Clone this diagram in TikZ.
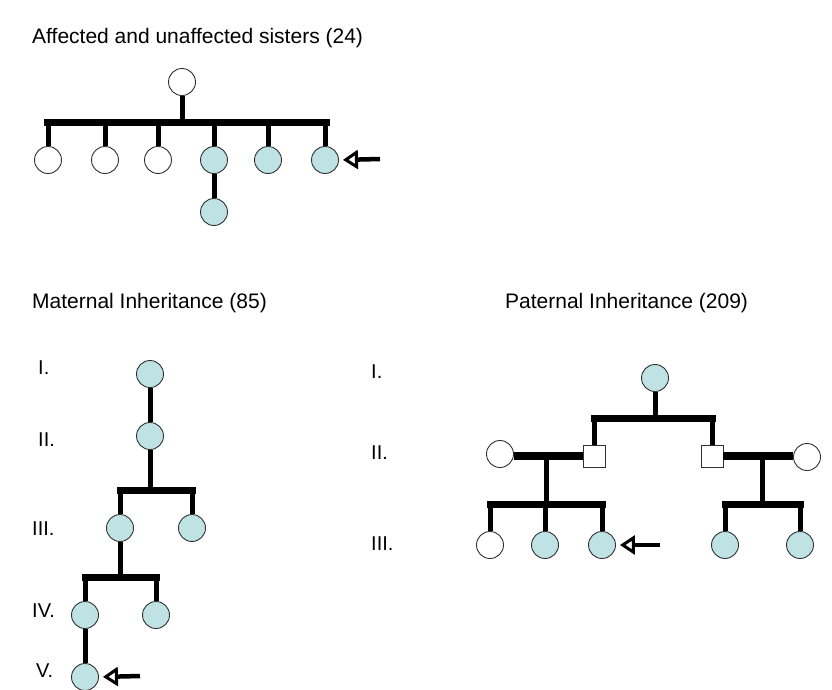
\documentclass[tikz,border=0pt]{standalone}
\usepackage{fontspec}
\setmainfont{Liberation Sans}
\usetikzlibrary{arrows.meta}
\definecolor{aff}{RGB}{191,226,228}
\definecolor{edge}{RGB}{50,50,50}
\begin{document}
\begin{tikzpicture}[x=1pt,y=-1pt,
  person/.style={circle,draw=edge,line width=0.9pt,minimum size=27pt,inner sep=0pt},
  affected/.style={person,fill=aff},
  unaff/.style={person,fill=white},
  male/.style={rectangle,draw=edge,line width=0.8pt,minimum size=22pt,inner sep=0pt,fill=white},
  bar/.style={line width=7pt,line cap=rect},
  drop/.style={line width=5pt},
  mate/.style={line width=8pt},
  proband/.style={line width=4.5pt,-{Triangle[open,length=15pt,width=19pt,line width=3pt]},shorten >=4pt},
  lbl/.style={anchor=base west,inner sep=0pt,font=\fontsize{20}{24}\selectfont},
  title/.style={anchor=base west,inner sep=0pt,font=\fontsize{21}{25}\selectfont}
]
\useasboundingbox (0,0) rectangle (832,689);
\fill[white] (0,0) rectangle (832,689);

% ---------- Affected and unaffected sisters ----------
\node[title] (t1) at (32,43) {Affected and unaffected sisters (24)};
\node[unaff] (a0) at (182,82) {};
\coordinate (ab) at (182,122);
\coordinate (abL) at (47,122);
\coordinate (abR) at (326,122);
\node[unaff] (a1) at (48,160) {};
\node[unaff] (a2) at (105,160) {};
\node[unaff] (a3) at (158,160) {};
\node[affected] (a4) at (214,160) {};
\node[affected] (a5) at (268,160) {};
\node[affected] (a6) at (325,160) {};
\node[affected] (a7) at (214,212) {};
\draw[drop] (a0.south) -- (ab);
\draw[bar] (abL) -- (abR);
\foreach \c in {a1,a2,a3,a4,a5,a6} \draw[drop] (\c |- ab) -- (\c.north);
\draw[drop] (a4.south) -- (a7.north);
\coordinate (aar) at (380,159);
\draw[proband] (aar) -- (a6.east);

% ---------- Maternal inheritance ----------
\node[title] (t2) at (32,308) {Maternal Inheritance (85)};
\node[lbl] (mI) at (38,374) {I.};
\node[lbl] (mII) at (38,446) {II.};
\node[lbl] (mIII) at (32,535) {III.};
\node[lbl] (mIV) at (32,617) {IV.};
\node[lbl] (mV) at (36,677) {V.};
\node[affected] (m1) at (150,374) {};
\node[affected] (m2) at (150,436) {};
\node[affected] (m3) at (120,528) {};
\node[affected] (m4) at (192,528) {};
\node[affected] (m5) at (85,615) {};
\node[affected] (m6) at (156,615) {};
\node[affected] (m7) at (85,677) {};
\coordinate (mb1) at (150,490);
\coordinate (mb2) at (120,577);
\draw[drop] (m1.south) -- (m2.north);
\draw[drop] (m2.south) -- (mb1);
\draw[bar] (m3 |- mb1) -- (m4 |- mb1);
\draw[drop] (m3 |- mb1) -- (m3.north);
\draw[drop] (m4 |- mb1) -- (m4.north);
\draw[drop] (m3.south) -- (mb2);
\draw[bar] (m5 |- mb2) -- (m6 |- mb2);
\draw[drop] (m5 |- mb2) -- (m5.north);
\draw[drop] (m6 |- mb2) -- (m6.north);
\draw[drop] (m5.south) -- (m7.north);
\coordinate (mar) at (140,676);
\draw[proband] (mar) -- (m7.east);

% ---------- Paternal inheritance ----------
\node[title] (t3) at (505,308) {Paternal Inheritance (209)};
\node[lbl] (pI) at (371,378) {I.};
\node[lbl] (pII) at (371,459) {II.};
\node[lbl] (pIII) at (371,550) {III.};
\node[affected] (p1) at (655,378) {};
\coordinate (pb) at (655,418);
\node[male] (s1) at (594,456) {};
\node[male] (s2) at (712,456) {};
\node[unaff] (w1) at (500,454) {};
\node[unaff] (w2) at (807,457) {};
\draw[drop] (p1.south) -- (pb);
\draw[bar] (s1 |- pb) -- (s2 |- pb);
\draw[drop] (s1 |- pb) -- (s1.north);
\draw[drop] (s2 |- pb) -- (s2.north);
\draw[mate] (w1.east |- s1) -- (s1.west);
\draw[mate] (s2.east) -- (w2.west |- s2);
\coordinate (lm) at (546,456);
\coordinate (lb) at (546,504);
\coordinate (rm) at (762,456);
\coordinate (rb) at (762,504);
\node[unaff] (k1) at (490,545) {};
\node[affected] (k2) at (545,545) {};
\node[affected] (k3) at (602,545) {};
\node[affected] (k4) at (725,545) {};
\node[affected] (k5) at (800,545) {};
\draw[drop] (lm) -- (lb);
\draw[bar] (k1 |- lb) -- (k3 |- lb);
\foreach \c in {k1,k2,k3} \draw[drop] (\c |- lb) -- (\c.north);
\draw[drop] (rm) -- (rb);
\draw[bar] (k4 |- rb) -- (k5 |- rb);
\foreach \c in {k4,k5} \draw[drop] (\c |- rb) -- (\c.north);
\coordinate (par) at (660,545);
\draw[proband] (par) -- (k3.east);
\end{tikzpicture}
\end{document}
